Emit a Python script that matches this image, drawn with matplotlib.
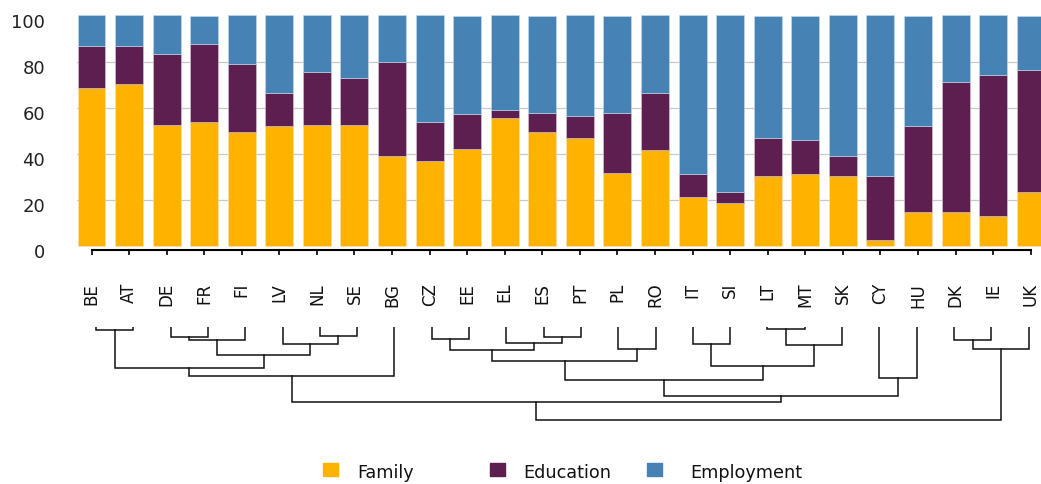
import matplotlib
matplotlib.use('Agg')
import matplotlib.pyplot as plt
from matplotlib.patches import Rectangle
from matplotlib.transforms import ScaledTranslation

# Data (shares in %)
countries = ['BE', 'AT', 'DE', 'FR', 'FI', 'LV', 'NL', 'SE', 'BG', 'CZ', 'EE', 'EL', 'ES',
             'PT', 'PL', 'RO', 'IT', 'SI', 'LT', 'MT', 'SK', 'CY', 'HU', 'DK', 'IE', 'UK']
family = [68.4, 70.2, 52.7, 53.6, 49.3, 52.0, 52.7, 52.7, 39.0, 37.1, 42.3, 55.5, 49.3,
          46.7, 31.9, 41.5, 21.4, 18.9, 30.2, 31.1, 30.2, 2.5, 14.6, 14.6, 12.9, 23.3]
education = [18.3, 16.5, 30.5, 34.1, 29.6, 14.6, 22.7, 20.0, 40.8, 16.5, 14.8, 3.3, 8.6,
             9.5, 26.0, 25.1, 9.7, 4.4, 16.5, 14.7, 8.7, 27.7, 37.3, 56.4, 61.5, 52.9]
employment = [13.3, 13.3, 16.8, 12.3, 21.1, 33.4, 24.6, 27.3, 20.2, 46.4, 42.9, 41.2, 42.1,
              43.8, 42.1, 33.4, 68.9, 76.7, 53.3, 54.2, 61.1, 69.8, 48.1, 29.0, 25.6, 23.8]

# Cluster tree: (left, right, height); leaves are 0..25, new clusters numbered from 26
links = [(0, 1, 3.3), (2, 3, 10.6), (27, 4, 13.3), (6, 7, 9.0), (5, 29, 17.3),
         (28, 30, 28.6), (26, 31, 40.6), (32, 8, 48.6), (9, 10, 12.6), (12, 13, 10.6),
         (11, 35, 16.6), (34, 36, 23.3), (14, 15, 22.6), (37, 38, 34.3), (16, 17, 17.3),
         (18, 19, 2.3), (41, 20, 18.3), (40, 42, 38.6), (39, 43, 52.6), (21, 22, 50.6),
         (44, 45, 69.0), (33, 46, 75.0), (23, 24, 13.3), (48, 25, 22.6), (47, 49, 93.3)]

c_fam = '#FFB200'
c_edu = '#5C1F50'
c_emp = '#4682B4'

W, H = 1041, 484
fig = plt.figure(figsize=(W / 100, H / 100), dpi=100)

def px_axes(left, top, right, bottom):
    return fig.add_axes([left / W, 1 - bottom / H, (right - left) / W, (bottom - top) / H])

# --- stacked bars ---
ax = px_axes(77, 15.5, 1041, 250)
x = list(range(len(countries)))
bw = 0.745
bottom2 = [f + e for f, e in zip(family, education)]
kw = dict(width=bw, linewidth=0.4, zorder=3, clip_on=False)
ax.bar(x, family, color=c_fam, edgecolor='#f4e3c0', **kw)
ax.bar(x, education, bottom=family, color=c_edu, edgecolor='#d9c9d5', **kw)
ax.bar(x, employment, bottom=bottom2, color=c_emp, edgecolor='#c9dbea', **kw)

ax.set_xlim((77 - 91.5) / 37.57, (1041 - 91.5) / 37.57)
ax.set_ylim(-1.7, 100)
ax.set_yticks([0, 20, 40, 60, 80, 100])
ax.yaxis.grid(True, color='#c8c8c8', linewidth=0.9, zorder=0)
gl = ax.yaxis.get_gridlines()
gl[0].set_visible(False)
gl[-1].set_visible(False)
for s in ['top', 'right', 'left']:
    ax.spines[s].set_visible(False)
ax.spines['bottom'].set_bounds(0, len(countries) - 1)
ax.spines['bottom'].set_linewidth(1.5)
ax.tick_params(axis='y', length=0, pad=23, labelsize=13, labelcolor='#222222')
off = ScaledTranslation(0, -0.05, fig.dpi_scale_trans)
for lab in ax.get_yticklabels():
    lab.set_transform(lab.get_transform() + off)
ax.set_xticks(x)
ax.set_xticklabels(countries, rotation=90, fontsize=12, color='#111111')
ax.tick_params(axis='x', direction='out', length=3.6, width=1.2, pad=20)

# --- dendrogram ---
dax = px_axes(77, 326.7, 1041, 421.5)
dax.set_xlim((77 - 96) / 37.3, (1041 - 96) / 37.3)
dax.set_ylim(94.3, 0)
dax.axis('off')
pos = {i: (float(i), 0.0) for i in range(len(countries))}
for k, (a, b, h) in enumerate(links):
    xa, ya = pos[a]
    xb, yb = pos[b]
    dax.plot([xa, xa, xb, xb], [ya, h, h, yb], color='#111111', linewidth=1.1,
             solid_joinstyle='miter')
    pos[len(countries) + k] = ((xa + xb) / 2, h)

# --- legend ---
items = [('Family', c_fam, 323, 357), ('Education', c_edu, 490, 523), ('Employment', c_emp, 647, 690)]
for name, col, sx, tx in items:
    fig.patches.append(Rectangle((sx / W, 1 - 476 / H), 15 / W, 13 / H, color=col,
                                 transform=fig.transFigure, figure=fig))
    fig.text(tx / W, 1 - 477.5 / H, name, fontsize=12.7, color='#111111', va='baseline')

plt.savefig('out.png', dpi=100)
